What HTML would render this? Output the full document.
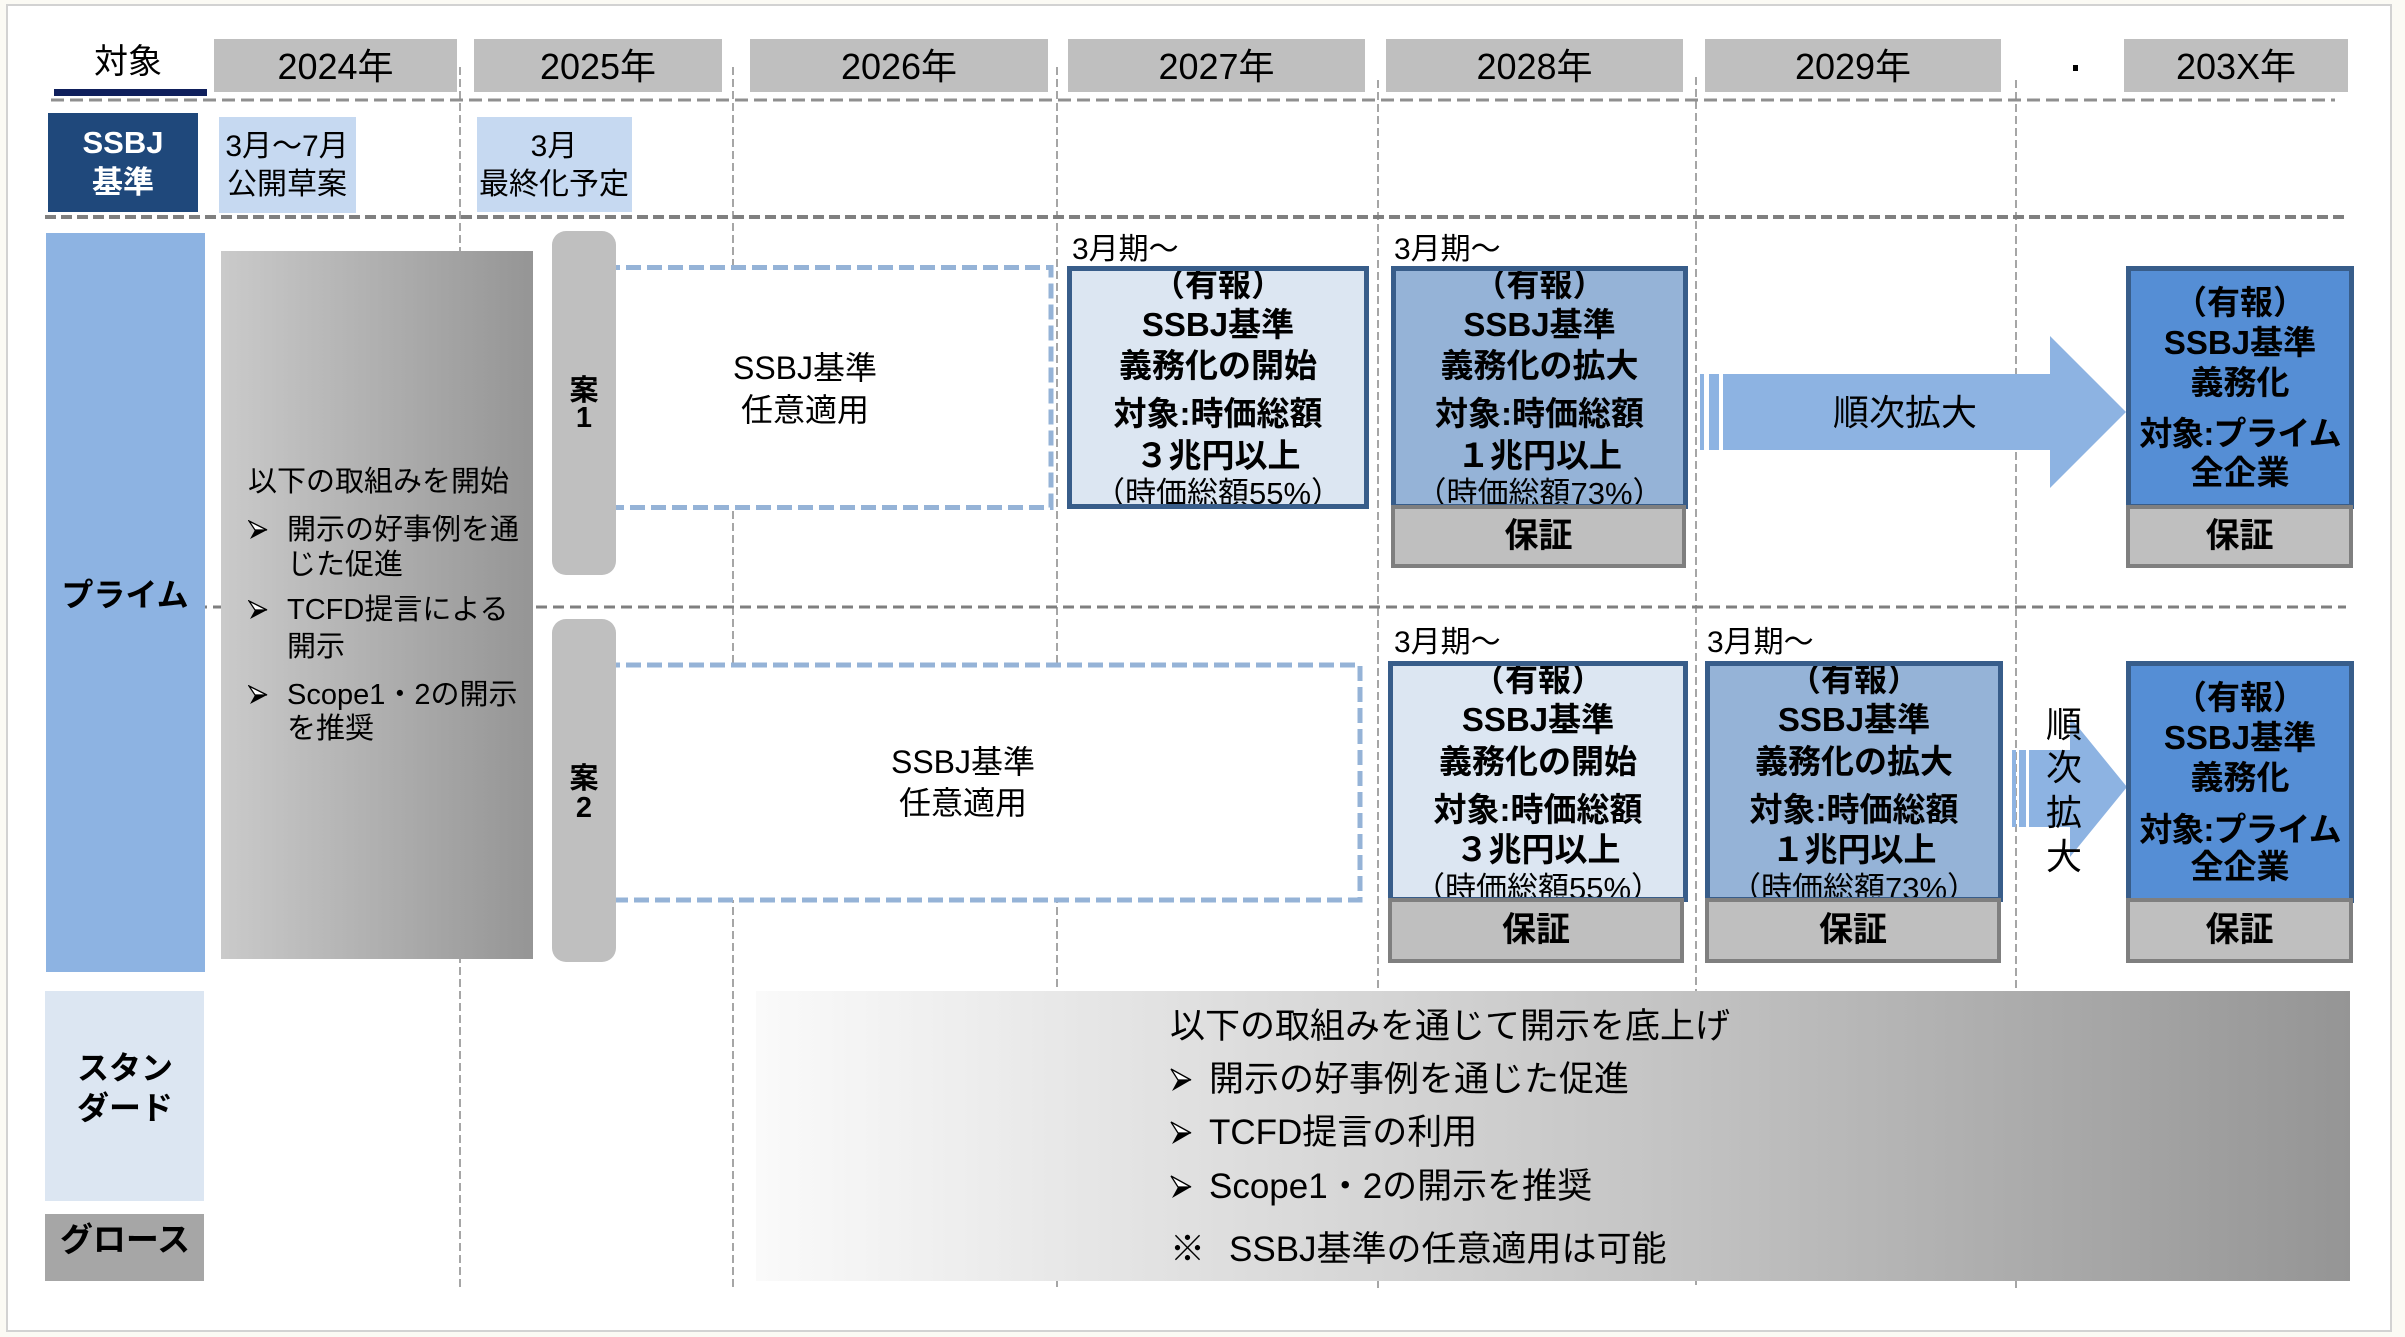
<!DOCTYPE html>
<html><head><meta charset="utf-8">
<style>
*{margin:0;padding:0;box-sizing:border-box}
html,body{width:2405px;height:1337px;overflow:hidden;background:#fbfaf4}
body{position:relative;font-family:"Liberation Sans","Noto Sans CJK JP",sans-serif;color:#000}
.a{position:absolute}
.c{position:absolute;white-space:nowrap;text-align:center;transform:translateX(-50%)}
.tl{position:absolute;white-space:nowrap}
.yr{position:absolute;background:#bfbfbf;text-align:center;font-size:36px;height:53px;line-height:55px;top:39px}
.bx{position:absolute;border:5px solid #385d8a;overflow:hidden}
.l{position:absolute;left:0;right:0;text-align:center;height:40px;line-height:40px;white-space:nowrap;font-weight:bold;font-size:33px}
.l.n{font-weight:normal;font-size:31px}
.hs{position:absolute;border:4px solid #7f7f7f;background:#bfbfbf;text-align:center;font-weight:bold;font-size:34px;line-height:56px;height:65px}
.bar{position:absolute;background:#bfbfbf;border-radius:14px;left:552px;width:64px}
.b{font-weight:bold}
.bul{position:absolute}
</style></head><body>
<div class="a" style="left:6px;top:4px;width:2386px;height:1328px;background:#fff;border:2px solid #d2d2d2"></div>

<svg class="a" style="left:0;top:0" width="2405" height="1337">
<g stroke="#a6a6a6" stroke-width="2" stroke-dasharray="8 4" fill="none">
<line x1="460" y1="67" x2="460" y2="1289"/>
<line x1="733" y1="67" x2="733" y2="1289"/>
<line x1="1057" y1="67" x2="1057" y2="1289"/>
<line x1="1378" y1="80" x2="1378" y2="1289"/>
<line x1="1696" y1="77" x2="1696" y2="1289"/>
<line x1="2016" y1="80" x2="2016" y2="1289"/>
</g>
<line x1="51" y1="100" x2="2335" y2="100" stroke="#8f8f8f" stroke-width="3" stroke-dasharray="13 6"/>
<line x1="45" y1="217" x2="2345" y2="217" stroke="#7f7f7f" stroke-width="4" stroke-dasharray="11 5"/>
<line x1="196" y1="607" x2="2346" y2="607" stroke="#7f7f7f" stroke-width="3" stroke-dasharray="11 6"/>
<rect x="605" y="267.5" width="446" height="240" fill="#fff" stroke="#95b3d7" stroke-width="5" stroke-dasharray="15 6"/>
<rect x="605" y="665" width="755" height="235" fill="#fff" stroke="#95b3d7" stroke-width="5" stroke-dasharray="15 6"/>
<g fill="#8db3e2">
<rect x="1700" y="374" width="4" height="76"/>
<rect x="1709" y="374" width="10" height="76"/>
<polygon points="1723,374 2050,374 2050,336 2126,412 2050,488 2050,450 1723,450"/>
<rect x="2012" y="750" width="4" height="77"/>
<rect x="2019" y="750" width="7" height="77"/>
<polygon points="2029,750 2070,750 2070,717 2127,787 2070,857 2070,827 2029,827"/>
</g>
</svg>

<!-- header -->
<div class="c" style="left:128px;top:42px;font-size:34px;line-height:40px">対象</div>
<div class="a" style="left:54px;top:89px;width:153px;height:7px;background:#0f1f5c"></div>
<div class="yr" style="left:214px;width:243px">2024年</div>
<div class="yr" style="left:474px;width:248px">2025年</div>
<div class="yr" style="left:750px;width:298px">2026年</div>
<div class="yr" style="left:1068px;width:297px">2027年</div>
<div class="yr" style="left:1386px;width:297px">2028年</div>
<div class="yr" style="left:1705px;width:296px">2029年</div>
<div class="yr" style="left:2124px;width:224px">203X年</div>
<div class="a" style="left:2073px;top:65px;width:5px;height:6px;background:#000"></div>

<!-- SSBJ row -->
<div class="a" style="left:48px;top:113px;width:150px;height:99px;background:#1f487b"></div>
<div class="c b" style="left:123px;top:123px;font-size:31px;line-height:40px;color:#fff">SSBJ</div>
<div class="c b" style="left:123px;top:163px;font-size:31px;line-height:40px;color:#fff">基準</div>
<div class="a" style="left:219px;top:117px;width:137px;height:96px;background:#c6d9f1"></div>
<div class="c" style="left:287px;top:127px;font-size:30px;line-height:40px">3月～7月</div>
<div class="c" style="left:287px;top:165px;font-size:30px;line-height:40px">公開草案</div>
<div class="a" style="left:477px;top:117px;width:155px;height:95px;background:#c6d9f1"></div>
<div class="c" style="left:554px;top:127px;font-size:30px;line-height:40px">3月</div>
<div class="c" style="left:554px;top:165px;font-size:30px;line-height:40px">最終化予定</div>

<!-- left column -->
<div class="a" style="left:46px;top:233px;width:159px;height:739px;background:#8db3e2"></div>
<div class="c b" style="left:125px;top:575px;font-size:32px;line-height:40px">プライム</div>
<div class="a" style="left:45px;top:991px;width:159px;height:210px;background:#dce6f2"></div>
<div class="c b" style="left:125px;top:1048px;font-size:32px;line-height:40px">スタン</div>
<div class="c b" style="left:125px;top:1088px;font-size:32px;line-height:40px">ダード</div>
<div class="a" style="left:45px;top:1214px;width:159px;height:67px;background:#a6a6a6"></div>
<div class="c b" style="left:125px;top:1220px;font-size:33px;line-height:40px">グロース</div>

<!-- left gray box -->
<div class="a" style="left:221px;top:251px;width:312px;height:708px;background:linear-gradient(to right,#cacaca,#959595)"></div>
<div class="tl" style="left:248px;top:462px;font-size:29px;line-height:40px">以下の取組みを開始</div>
<svg class="bul" style="left:248px;top:520px" width="20" height="20"><polygon points="1,1 19,10 7,10" fill="#fff" stroke="#000" stroke-width="1.3"/><polygon points="7,10 19,10 2,19" fill="#000"/></svg>
<div class="tl" style="left:287px;top:510px;font-size:29px;line-height:40px">開示の好事例を通</div>
<div class="tl" style="left:287px;top:545px;font-size:29px;line-height:40px">じた促進</div>
<svg class="bul" style="left:248px;top:600px" width="20" height="20"><polygon points="1,1 19,10 7,10" fill="#fff" stroke="#000" stroke-width="1.3"/><polygon points="7,10 19,10 2,19" fill="#000"/></svg>
<div class="tl" style="left:287px;top:590px;font-size:29px;line-height:40px">TCFD提言による</div>
<div class="tl" style="left:287px;top:627px;font-size:29px;line-height:40px">開示</div>
<svg class="bul" style="left:248px;top:685px" width="20" height="20"><polygon points="1,1 19,10 7,10" fill="#fff" stroke="#000" stroke-width="1.3"/><polygon points="7,10 19,10 2,19" fill="#000"/></svg>
<div class="tl" style="left:287px;top:675px;font-size:29px;line-height:40px">Scope1・2の開示</div>
<div class="tl" style="left:287px;top:709px;font-size:29px;line-height:40px">を推奨</div>

<!-- 案 bars -->
<div class="bar" style="top:231px;height:344px"></div>
<div class="c b" style="left:584px;top:376px;font-size:29px;line-height:30px">案</div>
<div class="c b" style="left:584px;top:403px;font-size:29px;line-height:30px">1</div>
<div class="bar" style="top:619px;height:343px"></div>
<div class="c b" style="left:584px;top:764px;font-size:29px;line-height:30px">案</div>
<div class="c b" style="left:584px;top:793px;font-size:29px;line-height:30px">2</div>

<!-- dashed box texts -->
<div class="c" style="left:805px;top:348px;font-size:32px;line-height:40px">SSBJ基準</div>
<div class="c" style="left:805px;top:390px;font-size:32px;line-height:40px">任意適用</div>
<div class="c" style="left:963px;top:742px;font-size:32px;line-height:40px">SSBJ基準</div>
<div class="c" style="left:963px;top:783px;font-size:32px;line-height:40px">任意適用</div>

<!-- 3月期 labels -->
<div class="tl" style="left:1072px;top:230px;font-size:30px;line-height:40px">3月期～</div>
<div class="tl" style="left:1394px;top:230px;font-size:30px;line-height:40px">3月期～</div>
<div class="tl" style="left:1394px;top:623px;font-size:30px;line-height:40px">3月期～</div>
<div class="tl" style="left:1707px;top:623px;font-size:30px;line-height:40px">3月期～</div>

<!-- 案1 boxes -->
<div class="bx" style="left:1067px;top:266px;width:302px;height:243px;background:#dce6f2">
<div class="l" style="top:-6px">（有報）</div>
<div class="l" style="top:34px">SSBJ基準</div>
<div class="l" style="top:75px">義務化の開始</div>
<div class="l" style="top:123px">対象:時価総額</div>
<div class="l" style="top:165px">３兆円以上</div>
<div class="l n" style="top:203px">（時価総額55%）</div>
</div>
<div class="bx" style="left:1391px;top:266px;width:297px;height:243px;background:#95b3d7">
<div class="l" style="top:-6px">（有報）</div>
<div class="l" style="top:34px">SSBJ基準</div>
<div class="l" style="top:75px">義務化の拡大</div>
<div class="l" style="top:123px">対象:時価総額</div>
<div class="l" style="top:165px">１兆円以上</div>
<div class="l n" style="top:203px">（時価総額73%）</div>
</div>
<div class="hs" style="left:1391px;top:505px;width:295px;height:63px;line-height:55px">保証</div>
<div class="bx" style="left:2126px;top:266px;width:228px;height:243px;background:#558ed5">
<div class="l" style="top:12px">（有報）</div>
<div class="l" style="top:52px">SSBJ基準</div>
<div class="l" style="top:92px">義務化</div>
<div class="l" style="top:143px;letter-spacing:-1px">対象:プライム</div>
<div class="l" style="top:182px">全企業</div>
</div>
<div class="hs" style="left:2126px;top:505px;width:227px;height:63px;line-height:55px">保証</div>
<div class="c" style="left:1905px;top:392px;font-size:36px;line-height:42px">順次拡大</div>

<!-- 案2 boxes -->
<div class="bx" style="left:1388px;top:661px;width:300px;height:241px;background:#dce6f2">
<div class="l" style="top:-6px">（有報）</div>
<div class="l" style="top:34px">SSBJ基準</div>
<div class="l" style="top:76px">義務化の開始</div>
<div class="l" style="top:124px">対象:時価総額</div>
<div class="l" style="top:164px">３兆円以上</div>
<div class="l n" style="top:203px">（時価総額55%）</div>
</div>
<div class="hs" style="left:1388px;top:898px;width:296px">保証</div>
<div class="bx" style="left:1705px;top:661px;width:298px;height:241px;background:#95b3d7">
<div class="l" style="top:-6px">（有報）</div>
<div class="l" style="top:34px">SSBJ基準</div>
<div class="l" style="top:76px">義務化の拡大</div>
<div class="l" style="top:124px">対象:時価総額</div>
<div class="l" style="top:164px">１兆円以上</div>
<div class="l n" style="top:203px">（時価総額73%）</div>
</div>
<div class="hs" style="left:1705px;top:898px;width:296px">保証</div>
<div class="bx" style="left:2126px;top:661px;width:228px;height:242px;background:#558ed5">
<div class="l" style="top:12px">（有報）</div>
<div class="l" style="top:52px">SSBJ基準</div>
<div class="l" style="top:92px">義務化</div>
<div class="l" style="top:144px;letter-spacing:-1px">対象:プライム</div>
<div class="l" style="top:181px">全企業</div>
</div>
<div class="hs" style="left:2126px;top:898px;width:227px">保証</div>
<div class="c" style="left:2064px;top:705px;font-size:36px;line-height:40px">順</div>
<div class="c" style="left:2064px;top:748px;font-size:36px;line-height:40px">次</div>
<div class="c" style="left:2064px;top:793px;font-size:36px;line-height:40px">拡</div>
<div class="c" style="left:2064px;top:837px;font-size:36px;line-height:40px">大</div>

<!-- bottom gradient box -->
<div class="a" style="left:756px;top:991px;width:1594px;height:290px;background:linear-gradient(to right,#fafafa 0%,#e2e2e2 25%,#c6c6c6 55%,#959595 100%)"></div>
<div class="tl" style="left:1170px;top:1006px;font-size:35px;line-height:42px">以下の取組みを通じて開示を底上げ</div>
<svg class="bul" style="left:1170px;top:1068px" width="22" height="24"><polygon points="1,1 21,12 8,12" fill="#fff" stroke="#000" stroke-width="1.3"/><polygon points="8,12 21,12 2,23" fill="#000"/></svg>
<div class="tl" style="left:1209px;top:1059px;font-size:35px;line-height:42px">開示の好事例を通じた促進</div>
<svg class="bul" style="left:1170px;top:1121px" width="22" height="24"><polygon points="1,1 21,12 8,12" fill="#fff" stroke="#000" stroke-width="1.3"/><polygon points="8,12 21,12 2,23" fill="#000"/></svg>
<div class="tl" style="left:1209px;top:1112px;font-size:35px;line-height:42px">TCFD提言の利用</div>
<svg class="bul" style="left:1170px;top:1175px" width="22" height="24"><polygon points="1,1 21,12 8,12" fill="#fff" stroke="#000" stroke-width="1.3"/><polygon points="8,12 21,12 2,23" fill="#000"/></svg>
<div class="tl" style="left:1209px;top:1166px;font-size:35px;line-height:42px">Scope1・2の開示を推奨</div>
<div class="tl" style="left:1170px;top:1229px;font-size:35px;line-height:42px">※</div>
<div class="tl" style="left:1229px;top:1229px;font-size:35px;line-height:42px">SSBJ基準の任意適用は可能</div>
</body></html>
